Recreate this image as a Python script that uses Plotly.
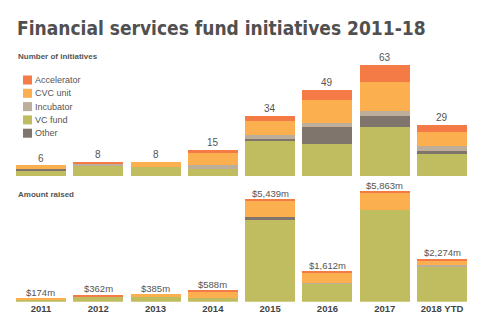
import plotly.graph_objects as go

W, H = 487, 334

years = ["2011", "2012", "2013", "2014", "2015", "2016", "2017", "2018 YTD"]

# Number of initiatives by type
cnt_vc = [3, 6, 5, 4, 20, 18, 28, 13]
cnt_other = [1, 0, 0, 0, 1, 10, 6, 1]
cnt_incubator = [0, 1, 0, 2, 2, 2, 3, 3]
cnt_cvc = [2, 0, 3, 7, 8, 13, 16, 8]
cnt_accel = [0, 1, 0, 2, 3, 6, 10, 4]
cnt_total = [6, 8, 8, 15, 34, 49, 63, 29]

# Amount raised ($m) by type
amt_vc = [134, 282, 290, 198, 4379, 942, 4883, 1874]
amt_other = [0, 0, 0, 0, 100, 0, 0, 0]
amt_incubator = [0, 0, 0, 0, 0, 40, 0, 50]
amt_cvc = [40, 0, 95, 345, 870, 580, 880, 250]
amt_accel = [0, 80, 0, 45, 90, 50, 100, 100]
amt_total = [174, 362, 385, 588, 5439, 1612, 5863, 2274]
amt_labels = ["$174m", "$362m", "$385m", "$588m", "$5,439m", "$1,612m", "$5,863m", "$2,274m"]

# stacking order (bottom up)
stack_names = ["VC fund", "Other", "Incubator", "CVC unit", "Accelerator"]
colors = {"Accelerator": "#F47B45", "CVC unit": "#FBAF4E", "Incubator": "#BDAE9B",
          "VC fund": "#BFBD60", "Other": "#7F756C"}
cnt_series = {"VC fund": cnt_vc, "Other": cnt_other, "Incubator": cnt_incubator,
              "CVC unit": cnt_cvc, "Accelerator": cnt_accel}
amt_series = {"VC fund": amt_vc, "Other": amt_other, "Incubator": amt_incubator,
              "CVC unit": amt_cvc, "Accelerator": amt_accel}
legend_order = ["Accelerator", "CVC unit", "Incubator", "VC fund", "Other"]


def px(x):
    return x / W


def py(y):
    return 1 - y / H


FONT = "Liberation Sans, Arial, sans-serif"
TXT = "#555555"

fig = go.Figure()
for name in stack_names:
    fig.add_trace(go.Bar(x=years, y=cnt_series[name], name=name, marker_color=colors[name],
                         marker_line_width=0, xaxis="x2", yaxis="y2", showlegend=False,
                         hoverinfo="skip"))
for name in stack_names:
    fig.add_trace(go.Bar(x=years, y=amt_series[name], name=name, marker_color=colors[name],
                         marker_line_width=0, xaxis="x", yaxis="y", showlegend=False,
                         hoverinfo="skip"))

annotations = []
for i, t in enumerate(cnt_total):
    annotations.append(dict(x=i, y=t, xref="x2", yref="y2", text=str(t), showarrow=False,
                            yanchor="middle", yshift=7,
                            font=dict(family=FONT, size=10, color=TXT)))
for i, (t, lab) in enumerate(zip(amt_total, amt_labels)):
    annotations.append(dict(x=i, y=t, xref="x", yref="y", text=lab, showarrow=False,
                            yanchor="middle", yshift=6,
                            font=dict(family=FONT, size=9.5, color=TXT)))

# titles
annotations.append(dict(x=px(15), y=py(28), xref="paper", yref="paper", xanchor="left",
                        yanchor="middle", showarrow=False,
                        text="Financial services fund initiatives 2011-18",
                        font=dict(family="DejaVu Sans Condensed, Roboto Condensed, Liberation Sans Narrow, Liberation Sans",
                                  weight="bold", size=19, color="#505050")))
annotations.append(dict(x=px(16), y=py(56), xref="paper", yref="paper", xanchor="left",
                        yanchor="middle", showarrow=False, text="<b>Number of initiatives</b>",
                        font=dict(family=FONT, size=8, color=TXT)))
annotations.append(dict(x=px(16), y=py(194), xref="paper", yref="paper", xanchor="left",
                        yanchor="middle", showarrow=False, text="<b>Amount raised</b>",
                        font=dict(family=FONT, size=8, color=TXT)))

# manual legend
shapes = []
for i, name in enumerate(legend_order):
    yc = 80 + i * 13.3
    shapes.append(dict(type="rect", xref="paper", yref="paper", x0=px(23), x1=px(32),
                       y0=py(yc - 4.5), y1=py(yc + 4.5), fillcolor=colors[name], line_width=0))
    annotations.append(dict(x=px(33), y=py(yc), xref="paper", yref="paper", xanchor="left",
                            yanchor="middle", showarrow=False, text=name,
                            font=dict(family=FONT, size=9, color=TXT)))

xdom = [px(12.35), px(470.65)]
fig.update_layout(
    width=W, height=H, margin=dict(l=0, r=0, t=0, b=0),
    paper_bgcolor="white", plot_bgcolor="white",
    barmode="stack", bargap=0.127,
    showlegend=False,
    xaxis=dict(type="category", categoryorder="array", categoryarray=years,
               domain=xdom, range=[-0.5, len(years) - 0.5], autorange=False,
               showgrid=False, zeroline=False, showline=False,
               ticks="", tickfont=dict(family=FONT, size=9.5, color="#444444", weight="bold"),
               fixedrange=True),
    yaxis=dict(domain=[py(301.7), py(185)], range=[0, (301.7 - 185) / 0.01888],
               visible=False, fixedrange=True),
    xaxis2=dict(type="category", categoryorder="array", categoryarray=years,
                domain=xdom, range=[-0.5, len(years) - 0.5], autorange=False,
                anchor="y2", showticklabels=False,
                showgrid=False, zeroline=False, showline=False, ticks=""),
    yaxis2=dict(domain=[py(176), py(60)], range=[0, (176 - 60) / 1.765], visible=False,
                anchor="x2"),
    annotations=annotations, shapes=shapes,
)

fig.write_html("out.html")
